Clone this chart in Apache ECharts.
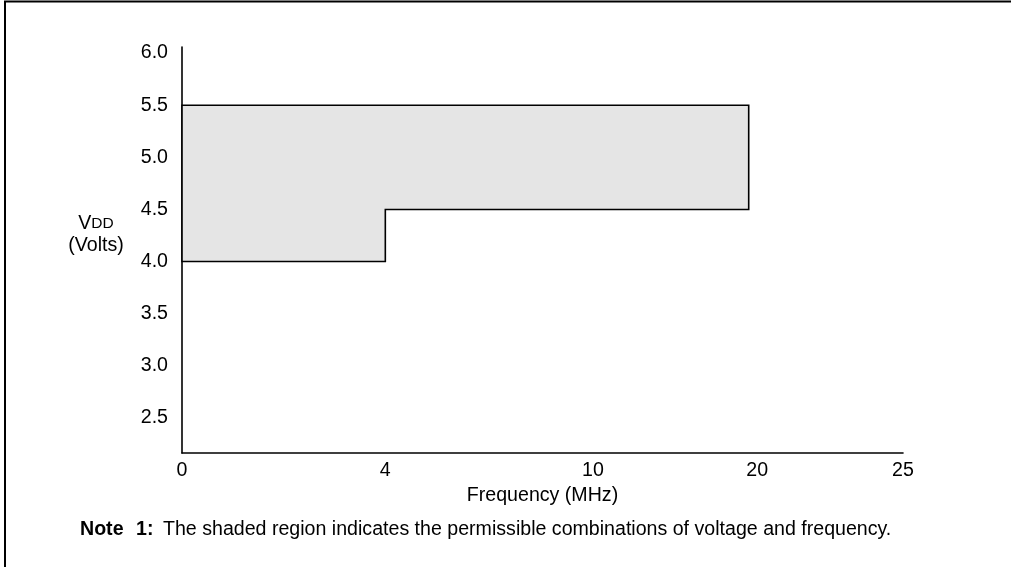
<!DOCTYPE html>
<html lang="en">
<head>
    <meta charset="UTF-8">
    <title>VDD vs Frequency</title>
    <script src="https://cdn.jsdelivr.net/npm/echarts@6/dist/echarts.min.js"></script>
    <style>
        html, body { margin: 0; padding: 0; background: #fff; }
        #main { width: 1011px; height: 567px; }
    </style>
</head>
<body>
<div id="main"></div>
<script>
    // x axis is not linear: each frequency tick has its own spot (0..100 along the axis)
    const freqTicks = [0, 4, 10, 20, 25];
    const freqTickPos = [0, 28.2, 57.0, 78.6, 100];
    const voltTicks = [2.5, 3.0, 3.5, 4.0, 4.5, 5.0, 5.5, 6.0];

    // outline of the shaded (permitted) region
    const regionFreq = [0, 20, 20, 4, 4, 0];
    const regionVolt = [5.5, 5.5, 4.5, 4.5, 4.0, 4.0];

    const noteText = 'The shaded region indicates the permissible combinations of voltage and frequency.';

    function xPos(f) {
        return freqTickPos[freqTicks.indexOf(f)];
    }

    const font = 'Arial, "Liberation Sans", sans-serif';
    const fs = 19.6;
    const chart = echarts.init(document.getElementById('main'));

    const regionData = regionFreq.map((f, i) => [xPos(f), regionVolt[i]]);

    const option = {
        animation: false,
        grid: { left: 182, right: 108, top: 47, bottom: 114 },
        xAxis: {
            type: 'value',
            min: 0,
            max: 100,
            name: 'Frequency (MHz)',
            nameLocation: 'middle',
            nameGap: 30,
            nameTextStyle: { color: '#000', fontSize: fs, fontFamily: font },
            axisLine: { lineStyle: { color: '#000', width: 1.6 } },
            axisTick: { show: false },
            splitLine: { show: false },
            axisLabel: {
                customValues: freqTickPos,
                margin: 8,
                color: '#000',
                fontSize: fs,
                fontFamily: font,
                formatter: function (v) {
                    let best = 0;
                    freqTickPos.forEach((p, i) => {
                        if (Math.abs(p - v) < Math.abs(freqTickPos[best] - v)) best = i;
                    });
                    // the "20" label sits a little right of its tick in the original
                    return freqTicks[best] === 20 ? '{s|20}' : String(freqTicks[best]);
                },
                rich: {
                    s: { fontSize: fs, fontFamily: font, color: '#000', padding: [0, 0, 0, 17] }
                }
            }
        },
        yAxis: {
            type: 'value',
            min: 2.164,
            max: 6.058,
            axisLine: { show: true, lineStyle: { color: '#000', width: 1.6 } },
            axisTick: { show: false },
            splitLine: { show: false },
            axisLabel: {
                customValues: voltTicks,
                margin: 14,
                color: '#000',
                fontSize: fs,
                fontFamily: font,
                formatter: v => v.toFixed(1)
            }
        },
        series: [{
            type: 'custom',
            data: regionData,
            renderItem: function (params, api) {
                if (params.dataIndex !== 0) return null;
                const pts = regionData.map(d => api.coord(d));
                return {
                    type: 'polygon',
                    shape: { points: pts },
                    style: { fill: '#e5e5e5', stroke: '#000', lineWidth: 1.6 }
                };
            }
        }],
        graphic: [
            {
                type: 'polyline',
                shape: { points: [[5, 567], [5, 1.5], [1011, 1.5]] },
                style: { stroke: '#000', lineWidth: 2, fill: null }
            },
            {
                type: 'text',
                x: 96, y: 224,
                style: {
                    text: '{v|V}{d|DD}',
                    align: 'center',
                    verticalAlign: 'middle',
                    rich: {
                        v: { fontSize: fs, fontFamily: font, fill: '#000' },
                        d: { fontSize: 15.5, fontFamily: font, fill: '#000' }
                    }
                }
            },
            {
                type: 'text',
                x: 96, y: 246,
                style: {
                    text: '(Volts)', align: 'center', verticalAlign: 'middle',
                    fontSize: fs, fontFamily: font, fill: '#000'
                }
            },
            {
                type: 'text',
                x: 80, y: 530,
                style: {
                    text: 'Note', verticalAlign: 'middle',
                    fontSize: fs, fontWeight: 'bold', fontFamily: font, fill: '#000'
                }
            },
            {
                type: 'text',
                x: 136, y: 530,
                style: {
                    text: '1:', verticalAlign: 'middle',
                    fontSize: fs, fontWeight: 'bold', fontFamily: font, fill: '#000'
                }
            },
            {
                type: 'text',
                x: 163, y: 530,
                style: {
                    text: noteText, verticalAlign: 'middle',
                    fontSize: fs, fontFamily: font, fill: '#000'
                }
            }
        ]
    };

    chart.setOption(option);
</script>
</body>
</html>
